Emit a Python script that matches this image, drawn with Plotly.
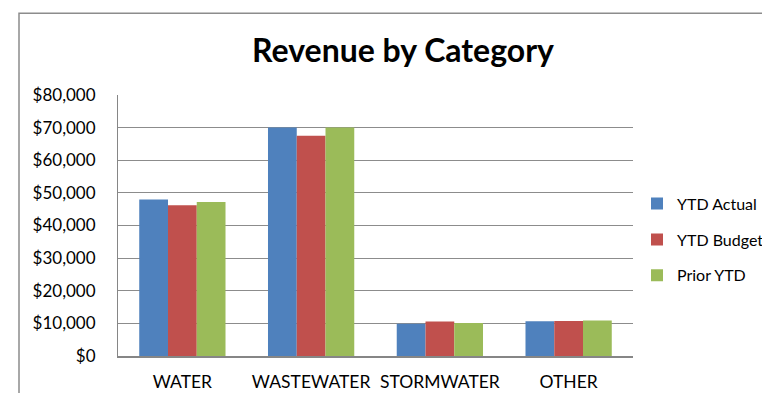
import plotly.graph_objects as go

categories = ["WATER", "WASTEWATER", "STORMWATER", "OTHER"]
ytd_actual = [48000, 70000, 9850, 10650]
ytd_budget = [46200, 67500, 10550, 10750]
prior_ytd = [47200, 70000, 10150, 10850]
series_names = ["YTD Actual", "YTD Budget", "Prior YTD"]
colors = ["#4F81BD", "#C0504D", "#9BBB59"]

font_family = "Lato, 'Open Sans', sans-serif"

fig = go.Figure()
for i, (name, vals, col) in enumerate(zip(series_names, [ytd_actual, ytd_budget, prior_ytd], colors)):
    fig.add_trace(go.Bar(x=categories, y=vals, name=name, legendgroup=f"g{i}",
                         marker=dict(color=col, line=dict(width=0))))

# page has an 8px body margin; figure coordinates are page minus 8
W, H = 754, 385
L, T = 110, 87
PR, PB = 625, 348.5
R, B = W - PR, H - PB
pw, ph = PR - L, PB - T
bx = (11 - L) / pw
by = (PB - 5) / ph

fig.update_layout(
    width=W, height=H,
    margin=dict(l=L, r=R, t=T, b=B, autoexpand=False),
    paper_bgcolor="white", plot_bgcolor="white",
    font=dict(family=font_family, size=17, color="black"),
    title=dict(text="<b>Revenue by Category</b>", x=395 / W, xanchor="center",
               y=1 - 43 / H, yanchor="middle", font=dict(size=32, family=font_family, color="black")),
    barmode="group", bargap=0.33, bargroupgap=0,
    showlegend=True,
    legend=dict(x=(629 - L) / pw, y=(PB - 232) / ph, xanchor="left", yanchor="middle",
                font=dict(size=16, family=font_family), tracegroupgap=12, itemsizing="constant"),
    xaxis=dict(showline=True, linecolor="#868686", linewidth=2, ticks="", tickfont=dict(size=17.5),
               ticklabelstandoff=9),
    yaxis=dict(range=[0, 80000], dtick=10000, tickprefix="$", tickformat=",", showgrid=True,
               gridcolor="#8C8C8C", gridwidth=1, showline=True, linecolor="#868686", linewidth=1,
               ticks="", tickfont=dict(size=17), zeroline=False, ticklabelstandoff=18),
    shapes=[dict(type="path", xref="paper", yref="paper",
                 path=f"M {bx} -0.5 L {bx} {by} L 1.4 {by}",
                 line=dict(color="#8C8C8C", width=1.5))],
)

fig.write_html("out.html")
